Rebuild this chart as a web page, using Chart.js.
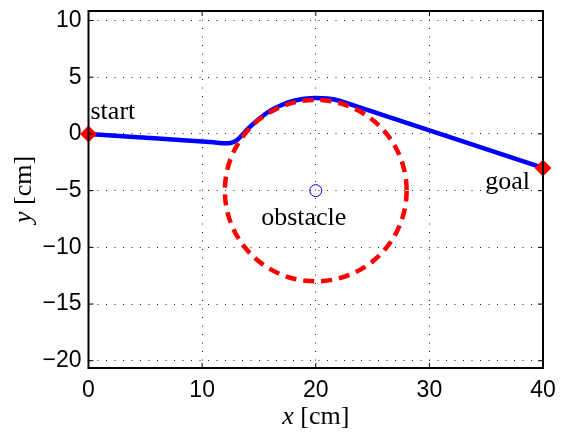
<!DOCTYPE html>
<html lang="en">
<head>
    <meta charset="UTF-8">
    <title>Path around obstacle</title>
    <script src="https://cdn.jsdelivr.net/npm/chart.js@4.4.1/dist/chart.umd.min.js"></script>
    <style>
        html, body { margin: 0; padding: 0; background: #fff; }
        #wrap { width: 564px; height: 432px; }
    </style>
</head>
<body>
    <div id="wrap"><canvas id="myChart" width="564" height="432"></canvas></div>

    <script>
        // robot path (cm)
        var pathX = [0, 4, 8, 11, 12, 12.5, 13, 13.5, 14, 15, 16, 17, 18, 19, 20, 21, 22, 23, 40];
        var pathY = [0, -0.27, -0.53, -0.74, -0.82, -0.8, -0.6, -0.12, 0.42, 1.32, 2.05, 2.55, 2.9, 3.1, 3.17, 3.12, 2.95, 2.62, -3.0];

        // start / goal markers
        var endX = [0, 40];
        var endY = [0, -3];
        var endLabels = ["start", "goal"];

        // obstacle
        var obstacleCenter = [20, -5];
        var obstacleRadius = 8;

        // axes
        var xTicks = [0, 10, 20, 30, 40];
        var yTicks = [-20, -15, -10, -5, 0, 5, 10];
        var xRange = [0, 40];
        var yRange = [-20.64, 10.84];

        function toPoints(xs, ys) {
            var pts = [];
            for (var i = 0; i < xs.length; i++) pts.push({ x: xs[i], y: ys[i] });
            return pts;
        }

        function minusSign(v) {
            return String(v).replace('-', '\u2212');
        }

        // dashed obstacle circle, labels, frame and axis titles
        var overlay = {
            id: 'overlay',
            afterDatasetsDraw: function (chart) {
                var ctx = chart.ctx;
                var xs = chart.scales.x, ys = chart.scales.y;
                var area = chart.chartArea;

                // obstacle boundary
                var cx = xs.getPixelForValue(obstacleCenter[0]);
                var cy = ys.getPixelForValue(obstacleCenter[1]);
                var rx = Math.abs(xs.getPixelForValue(obstacleCenter[0] + obstacleRadius) - cx);
                var ry = Math.abs(ys.getPixelForValue(obstacleCenter[1] + obstacleRadius) - cy);
                ctx.save();
                ctx.strokeStyle = '#ff0000';
                ctx.lineWidth = 4.5;
                ctx.setLineDash([11, 7]);
                ctx.beginPath();
                ctx.ellipse(cx, cy, rx, ry, 0, 0, Math.PI * 2);
                ctx.stroke();
                ctx.restore();

                // text labels
                ctx.save();
                ctx.fillStyle = '#000';
                ctx.font = '26px "Liberation Serif", "DejaVu Serif", serif';
                ctx.textBaseline = 'alphabetic';
                ctx.textAlign = 'left';
                ctx.fillText(endLabels[0], xs.getPixelForValue(endX[0]) + 2, ys.getPixelForValue(endY[0]) - 15);
                ctx.textAlign = 'right';
                ctx.fillText(endLabels[1], xs.getPixelForValue(endX[1]) - 13, ys.getPixelForValue(endY[1]) + 21);
                ctx.textAlign = 'center';
                ctx.fillText('obstacle', cx - 12, cy + 34);
                ctx.restore();

                // box with inward ticks
                ctx.save();
                ctx.strokeStyle = '#000';
                ctx.lineWidth = 2;
                ctx.strokeRect(area.left, area.top, area.right - area.left, area.bottom - area.top);
                ctx.lineWidth = 1;
                ctx.beginPath();
                xTicks.forEach(function (v) {
                    var px = xs.getPixelForValue(v);
                    ctx.moveTo(px, area.bottom); ctx.lineTo(px, area.bottom - 5);
                    ctx.moveTo(px, area.top); ctx.lineTo(px, area.top + 5);
                });
                yTicks.forEach(function (v) {
                    var py = ys.getPixelForValue(v);
                    ctx.moveTo(area.left, py); ctx.lineTo(area.left + 5, py);
                    ctx.moveTo(area.right, py); ctx.lineTo(area.right - 5, py);
                });
                ctx.stroke();
                ctx.restore();

                // axis titles: italic variable + unit
                ctx.save();
                ctx.fillStyle = '#000';
                ctx.textBaseline = 'middle';
                var italic = 'italic 26px "Liberation Serif", "DejaVu Serif", serif';
                var upright = '26px "Liberation Serif", "DejaVu Serif", serif';

                function drawTitle(v, unit, x, y) {
                    ctx.font = italic;
                    var w1 = ctx.measureText(v).width;
                    ctx.font = upright;
                    var w2 = ctx.measureText(unit).width;
                    var start = x - (w1 + w2) / 2;
                    ctx.textAlign = 'left';
                    ctx.font = italic;
                    ctx.fillText(v, start, y);
                    ctx.font = upright;
                    ctx.fillText(unit, start + w1, y);
                }

                drawTitle('x', ' [cm]', (area.left + area.right) / 2, 417);
                ctx.translate(24, (area.top + area.bottom) / 2);
                ctx.rotate(-Math.PI / 2);
                drawTitle('y', ' [cm]', 0, 0);
                ctx.restore();
            }
        };

        var tickFont = { family: '"Liberation Sans", Arial, sans-serif', size: 23 };

        var ctx = document.getElementById('myChart').getContext('2d');
        var chart = new Chart(ctx, {
            type: 'scatter',
            data: {
                datasets: [
                    {
                        data: toPoints(pathX, pathY),
                        showLine: true,
                        borderColor: '#0000ff',
                        borderWidth: 4.5,
                        pointRadius: 0,
                        cubicInterpolationMode: 'monotone',
                        order: 3
                    },
                    {
                        data: toPoints(endX, endY),
                        pointStyle: 'rectRot',
                        pointRadius: 8.5,
                        backgroundColor: '#ff0000',
                        borderColor: '#ff0000',
                        borderWidth: 0,
                        order: 1
                    },
                    {
                        data: toPoints([obstacleCenter[0]], [obstacleCenter[1]]),
                        pointStyle: 'circle',
                        pointRadius: 6,
                        backgroundColor: 'rgba(0,0,0,0)',
                        borderColor: '#0000ff',
                        borderWidth: 1,
                        order: 2
                    }
                ]
            },
            options: {
                responsive: false,
                animation: false,
                clip: false,
                layout: { padding: { top: 11, right: 21, left: 0, bottom: 0 } },
                plugins: {
                    legend: { display: false },
                    tooltip: { enabled: false }
                },
                scales: {
                    x: {
                        type: 'linear',
                        min: xRange[0],
                        max: xRange[1],
                        afterBuildTicks: function (scale) {
                            scale.ticks = xTicks.map(function (v) { return { value: v }; });
                        },
                        afterFit: function (scale) {
                            scale.height = 64;
                            scale.paddingLeft = 0;
                            scale.paddingRight = 0;
                        },
                        grid: { color: '#222', lineWidth: 1, drawTicks: false },
                        border: { display: false, dash: [1, 7.5] },
                        ticks: {
                            color: '#000',
                            font: tickFont,
                            padding: 9,
                            maxRotation: 0,
                            callback: minusSign
                        }
                    },
                    y: {
                        type: 'linear',
                        min: yRange[0],
                        max: yRange[1],
                        afterBuildTicks: function (scale) {
                            scale.ticks = yTicks.map(function (v) { return { value: v }; });
                        },
                        afterFit: function (scale) {
                            scale.width = 88.5;
                            scale.paddingTop = 0;
                            scale.paddingBottom = 0;
                        },
                        grid: { color: '#222', lineWidth: 1, drawTicks: false },
                        border: { display: false, dash: [1, 7.5] },
                        ticks: {
                            color: '#000',
                            font: tickFont,
                            padding: 7,
                            callback: minusSign
                        }
                    }
                }
            },
            plugins: [overlay]
        });
    </script>
</body>
</html>
